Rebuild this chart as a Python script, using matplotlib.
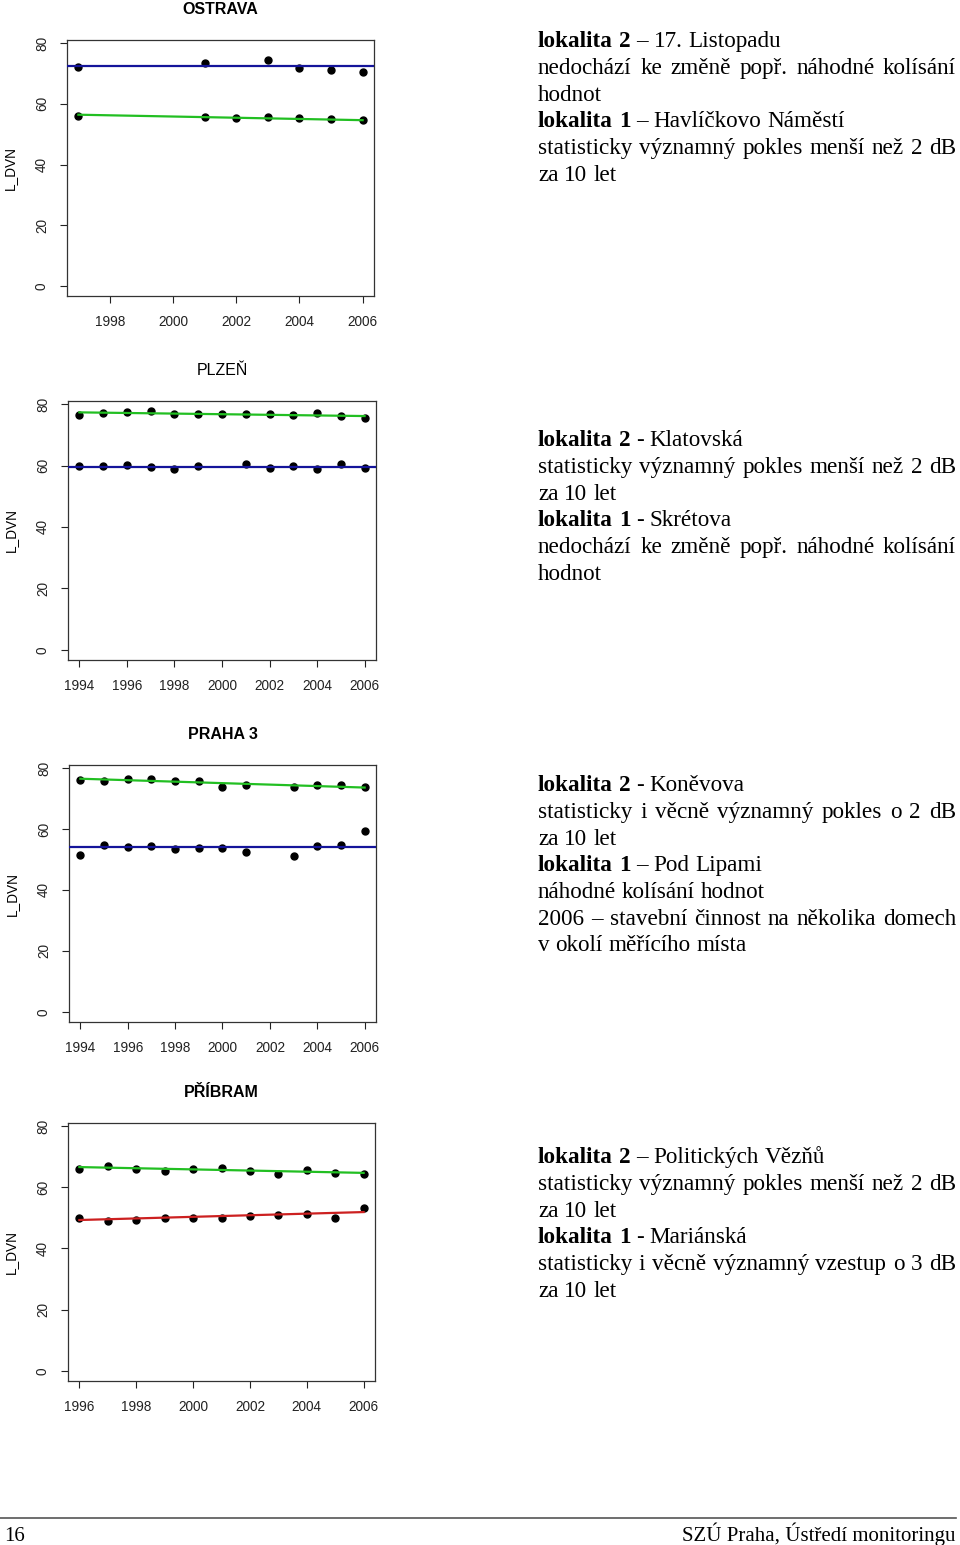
import matplotlib
matplotlib.use("Agg")
import matplotlib.pyplot as plt

# --- data (L_DVN in dB) ---
# OSTRAVA
ostrava_years_lok2 = [1997, 2001, 2003, 2004, 2005, 2006]
ostrava_lok2 = [72.1, 73.5, 74.3, 71.9, 71.0, 70.5]
ostrava_years_lok1 = [1997, 2001, 2002, 2003, 2004, 2005, 2006]
ostrava_lok1 = [56.0, 55.8, 55.2, 55.5, 55.2, 55.0, 54.5]
ostrava_mean_lok2 = 72.4
ostrava_trend_lok1 = [56.4, 54.6]

# PLZEN
plzen_years_lok2 = [1994, 1995, 1996, 1997, 1998, 1999, 2000, 2001, 2002, 2003, 2004, 2005, 2006]
plzen_lok2 = [76.5, 77.1, 77.3, 77.6, 76.9, 76.9, 76.9, 76.9, 76.9, 76.4, 77.1, 76.1, 75.4]
plzen_years_lok1 = [1994, 1995, 1996, 1997, 1998, 1999, 2001, 2002, 2003, 2004, 2005, 2006]
plzen_lok1 = [59.8, 59.8, 60.1, 59.4, 58.9, 59.8, 60.6, 59.1, 59.8, 58.9, 60.6, 59.1]
plzen_trend_lok2 = [77.3, 76.1]
plzen_mean_lok1 = 59.6

# PRAHA 3
praha_years = [1994, 1995, 1996, 1997, 1998, 1999, 2000, 2001, 2003, 2004, 2005, 2006]
praha_lok2 = [76.2, 75.6, 76.4, 76.4, 75.6, 75.6, 73.7, 74.6, 73.7, 74.3, 74.3, 73.7]
praha_lok1 = [51.4, 54.8, 54.1, 54.3, 53.5, 53.7, 53.7, 52.3, 51.2, 54.5, 54.8, 59.3]
praha_trend_lok2 = [76.5, 73.6]
praha_mean_lok1 = 54.1

# PRIBRAM
pribram_years = [1996, 1997, 1998, 1999, 2000, 2001, 2002, 2003, 2004, 2005, 2006]
pribram_lok2 = [66.0, 66.8, 66.0, 65.3, 66.0, 66.4, 65.3, 64.2, 65.6, 64.5, 64.2]
pribram_lok1 = [49.9, 49.0, 49.4, 50.1, 50.1, 50.1, 50.7, 51.1, 51.3, 50.1, 53.2]
pribram_trend_lok2 = [66.6, 64.7]
pribram_trend_lok1 = [49.3, 51.9]

titles = ["OSTRAVA", "PLZEŇ", "PRAHA 3", "PŘÍBRAM"]
yticks = [0, 20, 40, 60, 80]

texts = [
    [([("lokalita 2", True), ("– 17. Listopadu", False)], False),
     ([("nedochází ke změně popř. náhodné kolísání", False)], True),
     ([("hodnot", False)], False),
     ([("lokalita 1", True), ("– Havlíčkovo Náměstí", False)], False),
     ([("statisticky významný pokles menší než 2 dB", False)], True),
     ([("za 10 let", False)], False)],
    [([("lokalita 2", True), ("- Klatovská", False)], False),
     ([("statisticky významný pokles menší než 2 dB", False)], True),
     ([("za 10 let", False)], False),
     ([("lokalita 1", True), ("- Skrétova", False)], False),
     ([("nedochází ke změně popř. náhodné kolísání", False)], True),
     ([("hodnot", False)], False)],
    [([("lokalita 2", True), ("- Koněvova", False)], False),
     ([("statisticky i věcně významný pokles o 2 dB", False)], True),
     ([("za 10 let", False)], False),
     ([("lokalita 1", True), ("– Pod Lipami", False)], False),
     ([("náhodné kolísání hodnot", False)], False),
     ([("2006 – stavební činnost na několika domech", False)], True),
     ([("v okolí měřícího místa", False)], False)],
    [([("lokalita 2", True), ("– Politických Vězňů", False)], False),
     ([("statisticky významný pokles menší než 2 dB", False)], True),
     ([("za 10 let", False)], False),
     ([("lokalita 1", True), ("- Mariánská", False)], False),
     ([("statisticky i věcně významný vzestup o 3 dB", False)], True),
     ([("za 10 let", False)], False)],
]

# --- layout (pixels) ---
W, H = 960, 1545
GREEN = "#22bf22"
BLUE = "#14149a"
RED = "#cc2020"

fig = plt.figure(figsize=(W / 100, H / 100), dpi=100)


def px_axes(l, t, r, b):
    return fig.add_axes([l / W, 1 - b / H, (r - l) / W, (b - t) / H])


def style_axes(ax, xlim, xticks, title):
    ax.set_xlim(*xlim)
    ax.set_ylim(-3.3, 81)
    ax.set_xticks(xticks)
    ax.set_yticks(yticks)
    ax.tick_params(axis="both", direction="out", length=5, width=0.8,
                   labelsize=9.8, colors="#222222")
    ax.tick_params(axis="x", pad=8.5)
    ax.tick_params(axis="y", pad=8, labelrotation=90)
    for lab in ax.get_yticklabels():
        lab.set_verticalalignment("center")
    for sp in ax.spines.values():
        sp.set_linewidth(0.9)
        sp.set_color("#333333")
    ax.set_title(title, fontsize=11.5, fontweight="bold", pad=19)
    ax.set_ylabel("L_DVN", fontsize=9.8, labelpad=13)


plt.rcParams["font.family"] = ["Liberation Sans", "DejaVu Sans"]

MS = 5
LW = 1.6

# OSTRAVA
ax = px_axes(67, 40, 374, 296)
ax.plot(ostrava_years_lok2, ostrava_lok2, "o", color="black", ms=MS, zorder=2)
ax.plot(ostrava_years_lok1, ostrava_lok1, "o", color="black", ms=MS, zorder=2)
ax.axhline(ostrava_mean_lok2, color=BLUE, lw=LW, zorder=3)
ax.plot([ostrava_years_lok1[0], ostrava_years_lok1[-1]], ostrava_trend_lok1, color=GREEN, lw=LW, zorder=3)
style_axes(ax, (1996.64, 2006.36), [1998, 2000, 2002, 2004, 2006], titles[0])

# PLZEN
ax = px_axes(68, 401, 376, 660)
ax.plot(plzen_years_lok2, plzen_lok2, "o", color="black", ms=MS, zorder=2)
ax.plot(plzen_years_lok1, plzen_lok1, "o", color="black", ms=MS, zorder=2)
ax.plot([plzen_years_lok2[0], plzen_years_lok2[-1]], plzen_trend_lok2, color=GREEN, lw=LW, zorder=3)
ax.axhline(plzen_mean_lok1, color=BLUE, lw=LW, zorder=3)
style_axes(ax, (1993.52, 2006.48), list(range(1994, 2007, 2)), titles[1])
ax.title.set_fontweight("normal")

# PRAHA 3
ax = px_axes(69, 765, 376, 1022)
ax.plot(praha_years, praha_lok2, "o", color="black", ms=MS, zorder=2)
ax.plot(praha_years, praha_lok1, "o", color="black", ms=MS, zorder=2)
ax.plot([praha_years[0], praha_years[-1]], praha_trend_lok2, color=GREEN, lw=LW, zorder=3)
ax.axhline(praha_mean_lok1, color=BLUE, lw=LW, zorder=3)
style_axes(ax, (1993.52, 2006.48), list(range(1994, 2007, 2)), titles[2])

# PRIBRAM
ax = px_axes(68, 1123, 375, 1381)
ax.plot(pribram_years, pribram_lok2, "o", color="black", ms=MS, zorder=2)
ax.plot(pribram_years, pribram_lok1, "o", color="black", ms=MS, zorder=2)
ax.plot([pribram_years[0], pribram_years[-1]], pribram_trend_lok2, color=GREEN, lw=LW, zorder=3)
ax.plot([pribram_years[0], pribram_years[-1]], pribram_trend_lok1, color=RED, lw=LW, zorder=3)
style_axes(ax, (1995.6, 2006.4), list(range(1996, 2007, 2)), titles[3])

# --- right hand text, justified like the page ---
SERIF = ["Liberation Serif", "DejaVu Serif"]
FS = 16.7
TX0, TX1 = 538, 956
LINE_H = 26.67
block_tops = [47.3, 446.3, 791.3, 1163.3]

renderer = fig.canvas.get_renderer()
space_w = 0.25 * FS * 100 / 72

for top, lines in zip(block_tops, texts):
    for i, (segs, justify) in enumerate(lines):
        yb = top + i * LINE_H
        words = []
        for txt, bold in segs:
            for w in txt.split():
                t = fig.text(0, 1 - yb / H, w, fontsize=FS, family=SERIF,
                             fontweight="bold" if bold else "normal", va="baseline", color="black")
                words.append((t, t.get_window_extent(renderer).width))
        total = sum(w for _, w in words)
        gap = (TX1 - TX0 - total) / (len(words) - 1) if justify and len(words) > 1 else space_w
        x = TX0
        for t, w in words:
            t.set_x(x / W)
            x += w + gap

# --- footer ---
fig.add_artist(plt.Line2D([0, 956 / W], [1 - 1518 / H, 1 - 1518 / H], color="#555555", lw=1.2))
fig.text(4 / W, 1 - 1541 / H, "16", fontsize=15, family=SERIF, va="baseline")
fig.text(956 / W, 1 - 1541 / H, "SZÚ Praha, Ústředí monitoringu", fontsize=15, family=SERIF,
         va="baseline", ha="right")

fig.savefig("out.png", dpi=100)
